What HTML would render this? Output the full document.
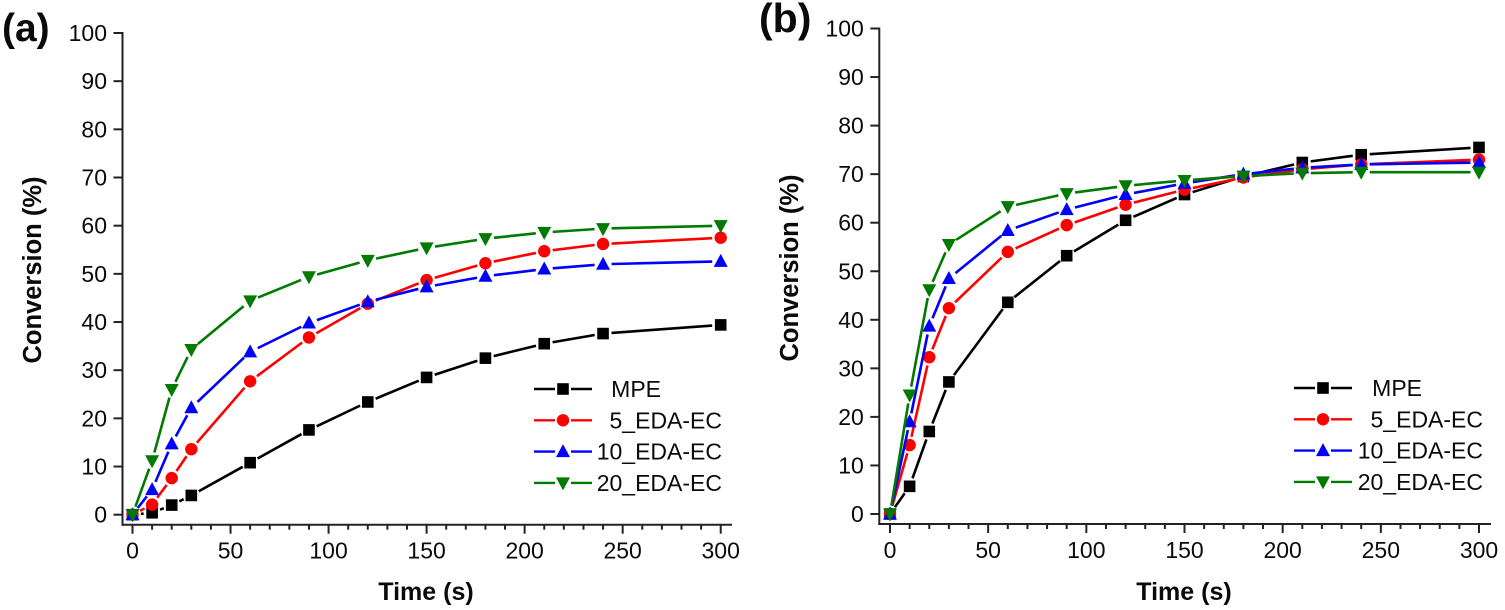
<!DOCTYPE html>
<html lang="en">
<head>
<meta charset="utf-8">
<title>Conversion vs time</title>
<style>
html,body{margin:0;padding:0;background:#fff;width:1505px;height:610px;overflow:hidden}
svg{display:block;filter:blur(0.35px)}
text{font-family:"Liberation Sans",Arial,sans-serif;fill:#0a0a0a}
</style>
</head>
<body>
<svg id="chart" xmlns="http://www.w3.org/2000/svg" width="1505" height="610" viewBox="0 0 1505 610"></svg>
<script>
const timePoints = [0, 10, 20, 30, 60, 90, 120, 150, 180, 210, 240, 300];
const seriesNames = ['MPE', '5_EDA-EC', '10_EDA-EC', '20_EDA-EC'];
const seriesKeys = ['mpe', '5-eda-ec', '10-eda-ec', '20-eda-ec'];
const seriesColors = ['#000000', '#ff0000', '#0000ff', '#007a00'];
const seriesShapes = ['square', 'circle', 'up', 'down'];
const panelAMpe = [0, 0.4, 2, 4, 10.8, 17.6, 23.4, 28.5, 32.5, 35.5, 37.6, 39.4];
const panelA5 = [0, 2.1, 7.6, 13.6, 27.7, 36.8, 43.8, 48.7, 52.2, 54.7, 56.2, 57.5];
const panelA10 = [0, 5.2, 14.7, 22.2, 33.8, 39.8, 44.2, 47.3, 49.5, 51, 52, 52.6];
const panelA20 = [0, 11.2, 26, 34.3, 44.4, 49.4, 52.8, 55.4, 57.3, 58.6, 59.4, 60];
const panelBMpe = [0, 5.7, 17, 27.2, 43.6, 53.2, 60.5, 65.8, 69.5, 72.4, 74, 75.5];
const panelB5 = [0, 14.2, 32.3, 42.4, 54, 59.5, 63.7, 66.8, 69.3, 71, 72, 73];
const panelB10 = [0, 19, 38.7, 48.5, 58.4, 62.7, 65.8, 68.1, 70, 71.3, 72, 72.4];
const panelB20 = [0, 24.5, 46.2, 55.5, 63.3, 66, 67.6, 68.7, 69.6, 70.2, 70.4, 70.4];
const xMajorTicks = [0, 50, 100, 150, 200, 250, 300];
const xMinorTicks = [10, 20, 30, 40, 60, 70, 80, 90, 110, 120, 130, 140, 160, 170, 180, 190, 210, 220, 230, 240, 260, 270, 280, 290];
const yTicks = [0, 10, 20, 30, 40, 50, 60, 70, 80, 90, 100];

const NS = 'http://www.w3.org/2000/svg';
const root = document.getElementById('chart');

function make(parent, tag, attrs, txt) {
  const el = document.createElementNS(NS, tag);
  for (const k in attrs) el.setAttribute(k, attrs[k]);
  if (txt !== undefined) el.textContent = txt;
  parent.appendChild(el);
  return el;
}

function drawMarker(parent, shape, cx, cy, color) {
  let el;
  if (shape === 'square') {
    el = make(parent, 'rect', {x: cx - 5.8, y: cy - 5.8, width: 11.6, height: 11.6, fill: color});
  } else if (shape === 'circle') {
    el = make(parent, 'circle', {cx: cx, cy: cy, r: 6.2, fill: color});
  } else if (shape === 'up') {
    el = make(parent, 'polygon', {points: (cx - 7) + ',' + (cy + 5.5) + ' ' + (cx + 7) + ',' + (cy + 5.5) + ' ' + cx + ',' + (cy - 7.5), fill: color});
  } else {
    el = make(parent, 'polygon', {points: (cx - 7) + ',' + (cy - 5.5) + ' ' + (cx + 7) + ',' + (cy - 5.5) + ' ' + cx + ',' + (cy + 7.5), fill: color});
  }
  
  
  return el;
}

function drawPanel(cfg) {
  const g = make(root, 'g', {});
  
  

  const sx = function (t) { return cfg.x0 + (t / 300) * (cfg.x300 - cfg.x0); };
  const sy = function (v) { return cfg.y0 + (v / 100) * (cfg.y100 - cfg.y0); };
  const stroke = {stroke: '#222', 'stroke-width': 2, fill: 'none'};

  const panelLabel = make(g, 'text', {x: cfg.labelX, y: cfg.labelY, 'font-size': cfg.labelSize, 'font-weight': 'bold'}, '(' + cfg.id + ')');
  
  

  const yAxis = make(g, 'line', Object.assign({x1: cfg.axisX, x2: cfg.axisX, y1: sy(100) - 1, y2: cfg.axisY + 1}, stroke));
  
  
  const xAxis = make(g, 'line', Object.assign({x1: cfg.axisX - 1, x2: cfg.axisEnd, y1: cfg.axisY, y2: cfg.axisY}, stroke));
  
  

  yTicks.forEach(function (v) {
    const tick = make(g, 'line', Object.assign({x1: cfg.axisX - 9, x2: cfg.axisX, y1: sy(v), y2: sy(v)}, stroke));
    
    
    const label = make(g, 'text', {x: cfg.axisX - 15.5, y: sy(v) + 8, 'font-size': 23, 'text-anchor': 'end'}, String(v));
    
    
  });

  xMajorTicks.forEach(function (t) {
    const tick = make(g, 'line', Object.assign({x1: sx(t), x2: sx(t), y1: cfg.axisY, y2: cfg.axisY + 9}, stroke));
    
    
    const label = make(g, 'text', {x: sx(t), y: cfg.axisY + 34, 'font-size': 23, 'text-anchor': 'middle'}, String(t));
    
    
  });
  xMinorTicks.forEach(function (t) {
    const tick = make(g, 'line', Object.assign({x1: sx(t), x2: sx(t), y1: cfg.axisY, y2: cfg.axisY + 5}, stroke));
    
    
  });

  const xTitle = make(g, 'text', {x: cfg.xTitleX, y: 600, 'font-size': 25, 'font-weight': 'bold', 'text-anchor': 'middle'}, 'Time (s)');
  
  
  const yTitle = make(g, 'text', {
    x: 0, y: 0, 'font-size': 25.5, 'font-weight': 'bold', 'text-anchor': 'middle',
    transform: 'translate(' + cfg.yTitleX + ',' + cfg.yTitleY + ') rotate(-90)'
  }, 'Conversion (%)');
  
  

  const gap = 8.5;
  cfg.series.forEach(function (values, s) {
    const sg = make(g, 'g', {});
    
    
    for (let i = 0; i < values.length - 1; i++) {
      const x1 = sx(timePoints[i]), y1 = sy(values[i]);
      const x2 = sx(timePoints[i + 1]), y2 = sy(values[i + 1]);
      const len = Math.hypot(x2 - x1, y2 - y1);
      if (len <= gap * 2) continue;
      const ux = (x2 - x1) / len, uy = (y2 - y1) / len;
      const seg = make(sg, 'line', {
        x1: x1 + ux * gap, y1: y1 + uy * gap, x2: x2 - ux * gap, y2: y2 - uy * gap,
        stroke: seriesColors[s], 'stroke-width': 2.6
      });
      
      
    }
    values.forEach(function (v, i) {
      drawMarker(sg, seriesShapes[s], sx(timePoints[i]), sy(v), seriesColors[s]);
    });
  });

  const legend = make(g, 'g', {});
  
  
  seriesNames.forEach(function (name, s) {
    const ly = cfg.legendY + s * cfg.legendStep;
    const entry = make(legend, 'g', {});
    
    
    make(entry, 'line', {x1: cfg.legendX, x2: cfg.legendX + 21, y1: ly, y2: ly, stroke: seriesColors[s], 'stroke-width': 2.4});
    make(entry, 'line', {x1: cfg.legendX + 37, x2: cfg.legendX + 58, y1: ly, y2: ly, stroke: seriesColors[s], 'stroke-width': 2.4});
    drawMarker(entry, seriesShapes[s], cfg.legendX + 29, ly, seriesColors[s]);
    const isMpe = s === 0;
    const label = make(entry, 'text', {
      x: isMpe ? cfg.legendTextEnd - 61 : cfg.legendTextEnd,
      y: ly + 8, 'font-size': 23, 'text-anchor': 'end'
    }, name);
    
    
  });
}

drawPanel({
  id: 'a', x0: 132.5, x300: 720.7, y0: 514.7, y100: 33, axisX: 122.5, axisY: 524.7, axisEnd: 732,
  labelX: 2, labelY: 41, labelSize: 39, xTitleX: 426, yTitleX: 41, yTitleY: 270,
  legendX: 534, legendY: 389, legendStep: 31.3, legendTextEnd: 722,
  series: [panelAMpe, panelA5, panelA10, panelA20]
});
drawPanel({
  id: 'b', x0: 890, x300: 1479, y0: 514, y100: 28.5, axisX: 879.3, axisY: 524, axisEnd: 1491,
  labelX: 759, labelY: 32, labelSize: 41, xTitleX: 1184, yTitleX: 798, yTitleY: 268,
  legendX: 1294, legendY: 388, legendStep: 31.3, legendTextEnd: 1483,
  series: [panelBMpe, panelB5, panelB10, panelB20]
});
</script>
</body>
</html>
